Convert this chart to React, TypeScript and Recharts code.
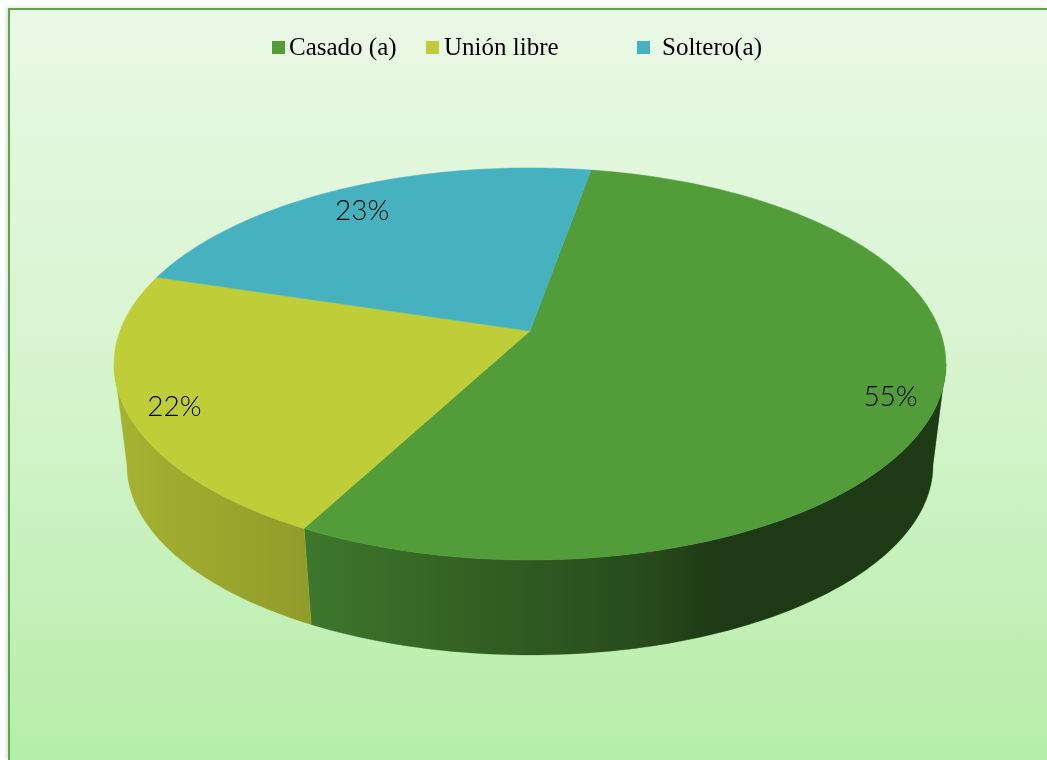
import { PieChart, Pie, Cell } from "recharts";

// estado civil
const categories = ["Casado (a)", "Unión libre", "Soltero(a)"];
const shares = [55, 22, 23];
const colors = ["#529c3a", "#bfcd38", "#47b2bf"];

const data = categories.map((name, i) => ({ name, value: shares[i] }));

const W = 1037;
const H = 750;
const CX = 520;
const CY = 321;
const R = 410;
const TILT = 0.4646; // squash of the top face
const PERSP = 0.168; // far side looks smaller
const DEPTH = 95;
const BOTTOM_SCALE = 0.969;
const LABEL_POS = 0.885;

const RAD = Math.PI / 180;
const SIL = Math.asin(PERSP) / RAD; // where the side wall turns away

// legend layout (px)
const LEGEND_WIDTHS = [154, 211, 130];
const LEGEND_GAPS = [4, 5, 12];

type Pt = [number, number];

const project = (cx: number, cy: number, r: number, deg: number, frac = 1): Pt => {
  const u = Math.cos(deg * RAD) * frac;
  const v = Math.sin(deg * RAD) * frac;
  const d = 1 + PERSP * v;
  return [cx + (r * u) / d, cy - (r * TILT * v) / d];
};

const toPath = (pts: Pt[]) =>
  "M" + pts.map((p) => `${p[0].toFixed(2)},${p[1].toFixed(2)}`).join("L") + "Z";

const rim = (cx: number, cy: number, r: number, from: number, to: number): Pt[] => {
  const pts: Pt[] = [];
  const step = from > to ? -1 : 1;
  for (let a = from; step < 0 ? a > to : a < to; a += step) pts.push(project(cx, cy, r, a));
  pts.push(project(cx, cy, r, to));
  return pts;
};

const Slice3D = (props: any) => {
  const { cx, cy, outerRadius, startAngle, endAngle, fill, index } = props;
  const hi = Math.max(startAngle, endAngle);
  const lo = Math.min(startAngle, endAngle);

  const frontY = project(cx, cy, outerRadius, -90)[1];
  const vp = (frontY + DEPTH - BOTTOM_SCALE * frontY) / (1 - BOTTOM_SCALE);
  const down = (p: Pt): Pt => [cx + BOTTOM_SCALE * (p[0] - cx), vp + BOTTOM_SCALE * (p[1] - vp)];

  const sides: string[] = [];
  for (let n = -2; n <= 2; n++) {
    const a1 = Math.max(lo, -180 + SIL + 360 * n);
    const a2 = Math.min(hi, -SIL + 360 * n);
    if (a2 > a1) {
      const upper = rim(cx, cy, outerRadius, a1, a2);
      const lower = upper.map(down).reverse();
      sides.push(toPath([...upper, ...lower]));
    }
  }

  const topFace = toPath([[cx, cy], ...rim(cx, cy, outerRadius, hi, lo)]);
  const rx = outerRadius / Math.sqrt(1 - PERSP * PERSP);
  const gid = `side-shade-${index}`;

  return (
    <g>
      <defs>
        <linearGradient id={gid} gradientUnits="userSpaceOnUse" x1={cx - rx} y1={0} x2={cx + rx} y2={0}>
          <stop offset="0" stopColor="#000" stopOpacity={0.13} />
          <stop offset="0.23" stopColor="#000" stopOpacity={0.24} />
          <stop offset="0.5" stopColor="#000" stopOpacity={0.43} />
          <stop offset="0.65" stopColor="#000" stopOpacity={0.53} />
          <stop offset="0.72" stopColor="#000" stopOpacity={0.63} />
          <stop offset="1" stopColor="#000" stopOpacity={0.63} />
        </linearGradient>
      </defs>
      {sides.map((d, i) => (
        <g key={i}>
          <path d={d} fill={fill} stroke={fill} strokeWidth={0.5} />
          <path d={d} fill={`url(#${gid})`} />
        </g>
      ))}
      <path d={topFace} fill={fill} stroke={fill} strokeWidth={0.5} />
    </g>
  );
};

const renderLabel = (p: any) => {
  const [x, y] = project(p.cx, p.cy, p.outerRadius, p.midAngle, LABEL_POS);
  return (
    <text
      x={x}
      y={y + 6}
      textAnchor="middle"
      dominantBaseline="central"
      fill="#000"
      fontFamily="Lato, 'Open Sans', sans-serif"
      fontWeight={300}
      fontSize={28}
    >
      {`${Math.round(p.percent * 100)}%`}
    </text>
  );
};

export default function App() {
  return (
    <div
      style={{
        position: "fixed",
        left: 8,
        top: 8,
        width: 1039,
        height: 752,
        boxSizing: "border-box",
        borderLeft: "2px solid #5aa845",
        borderTop: "2px solid #5aa845",
        boxShadow: "-2px -1px 3px rgba(0,0,0,0.12)",
        background: "linear-gradient(180deg, #eaf8e6 0%, #d6f4ce 50%, #b6eda9 100%)",
        overflow: "hidden",
      }}
    >
      {/* LEGEND */}
      <div
        style={{
          position: "absolute",
          left: 262,
          top: 24,
          height: 26,
          display: "flex",
          alignItems: "center",
          fontFamily: "'Liberation Serif', 'Times New Roman', serif",
          fontSize: 25,
          lineHeight: "26px",
          color: "#000",
          whiteSpace: "nowrap",
        }}
      >
        {categories.map((c, i) => (
          <div key={c} style={{ width: LEGEND_WIDTHS[i], display: "flex", alignItems: "center" }}>
            <div style={{ width: 13, height: 13, background: colors[i], marginRight: LEGEND_GAPS[i] }} />
            <span>{c}</span>
          </div>
        ))}
      </div>

      <div style={{ position: "absolute", left: 0, top: 0 }}>
        <PieChart width={W} height={H} margin={{ top: 0, right: 0, bottom: 0, left: 0 }}>
          <Pie
            data={data}
            dataKey="value"
            nameKey="name"
            cx={CX}
            cy={CY}
            outerRadius={R}
            startAngle={80}
            endAngle={-280}
            stroke="none"
            labelLine={false}
            label={renderLabel}
            shape={Slice3D}
            activeShape={Slice3D}
            inactiveShape={Slice3D}
            isAnimationActive={false}
          >
            {data.map((d, i) => (
              <Cell key={d.name} fill={colors[i]} />
            ))}
          </Pie>
        </PieChart>
      </div>
    </div>
  );
}
